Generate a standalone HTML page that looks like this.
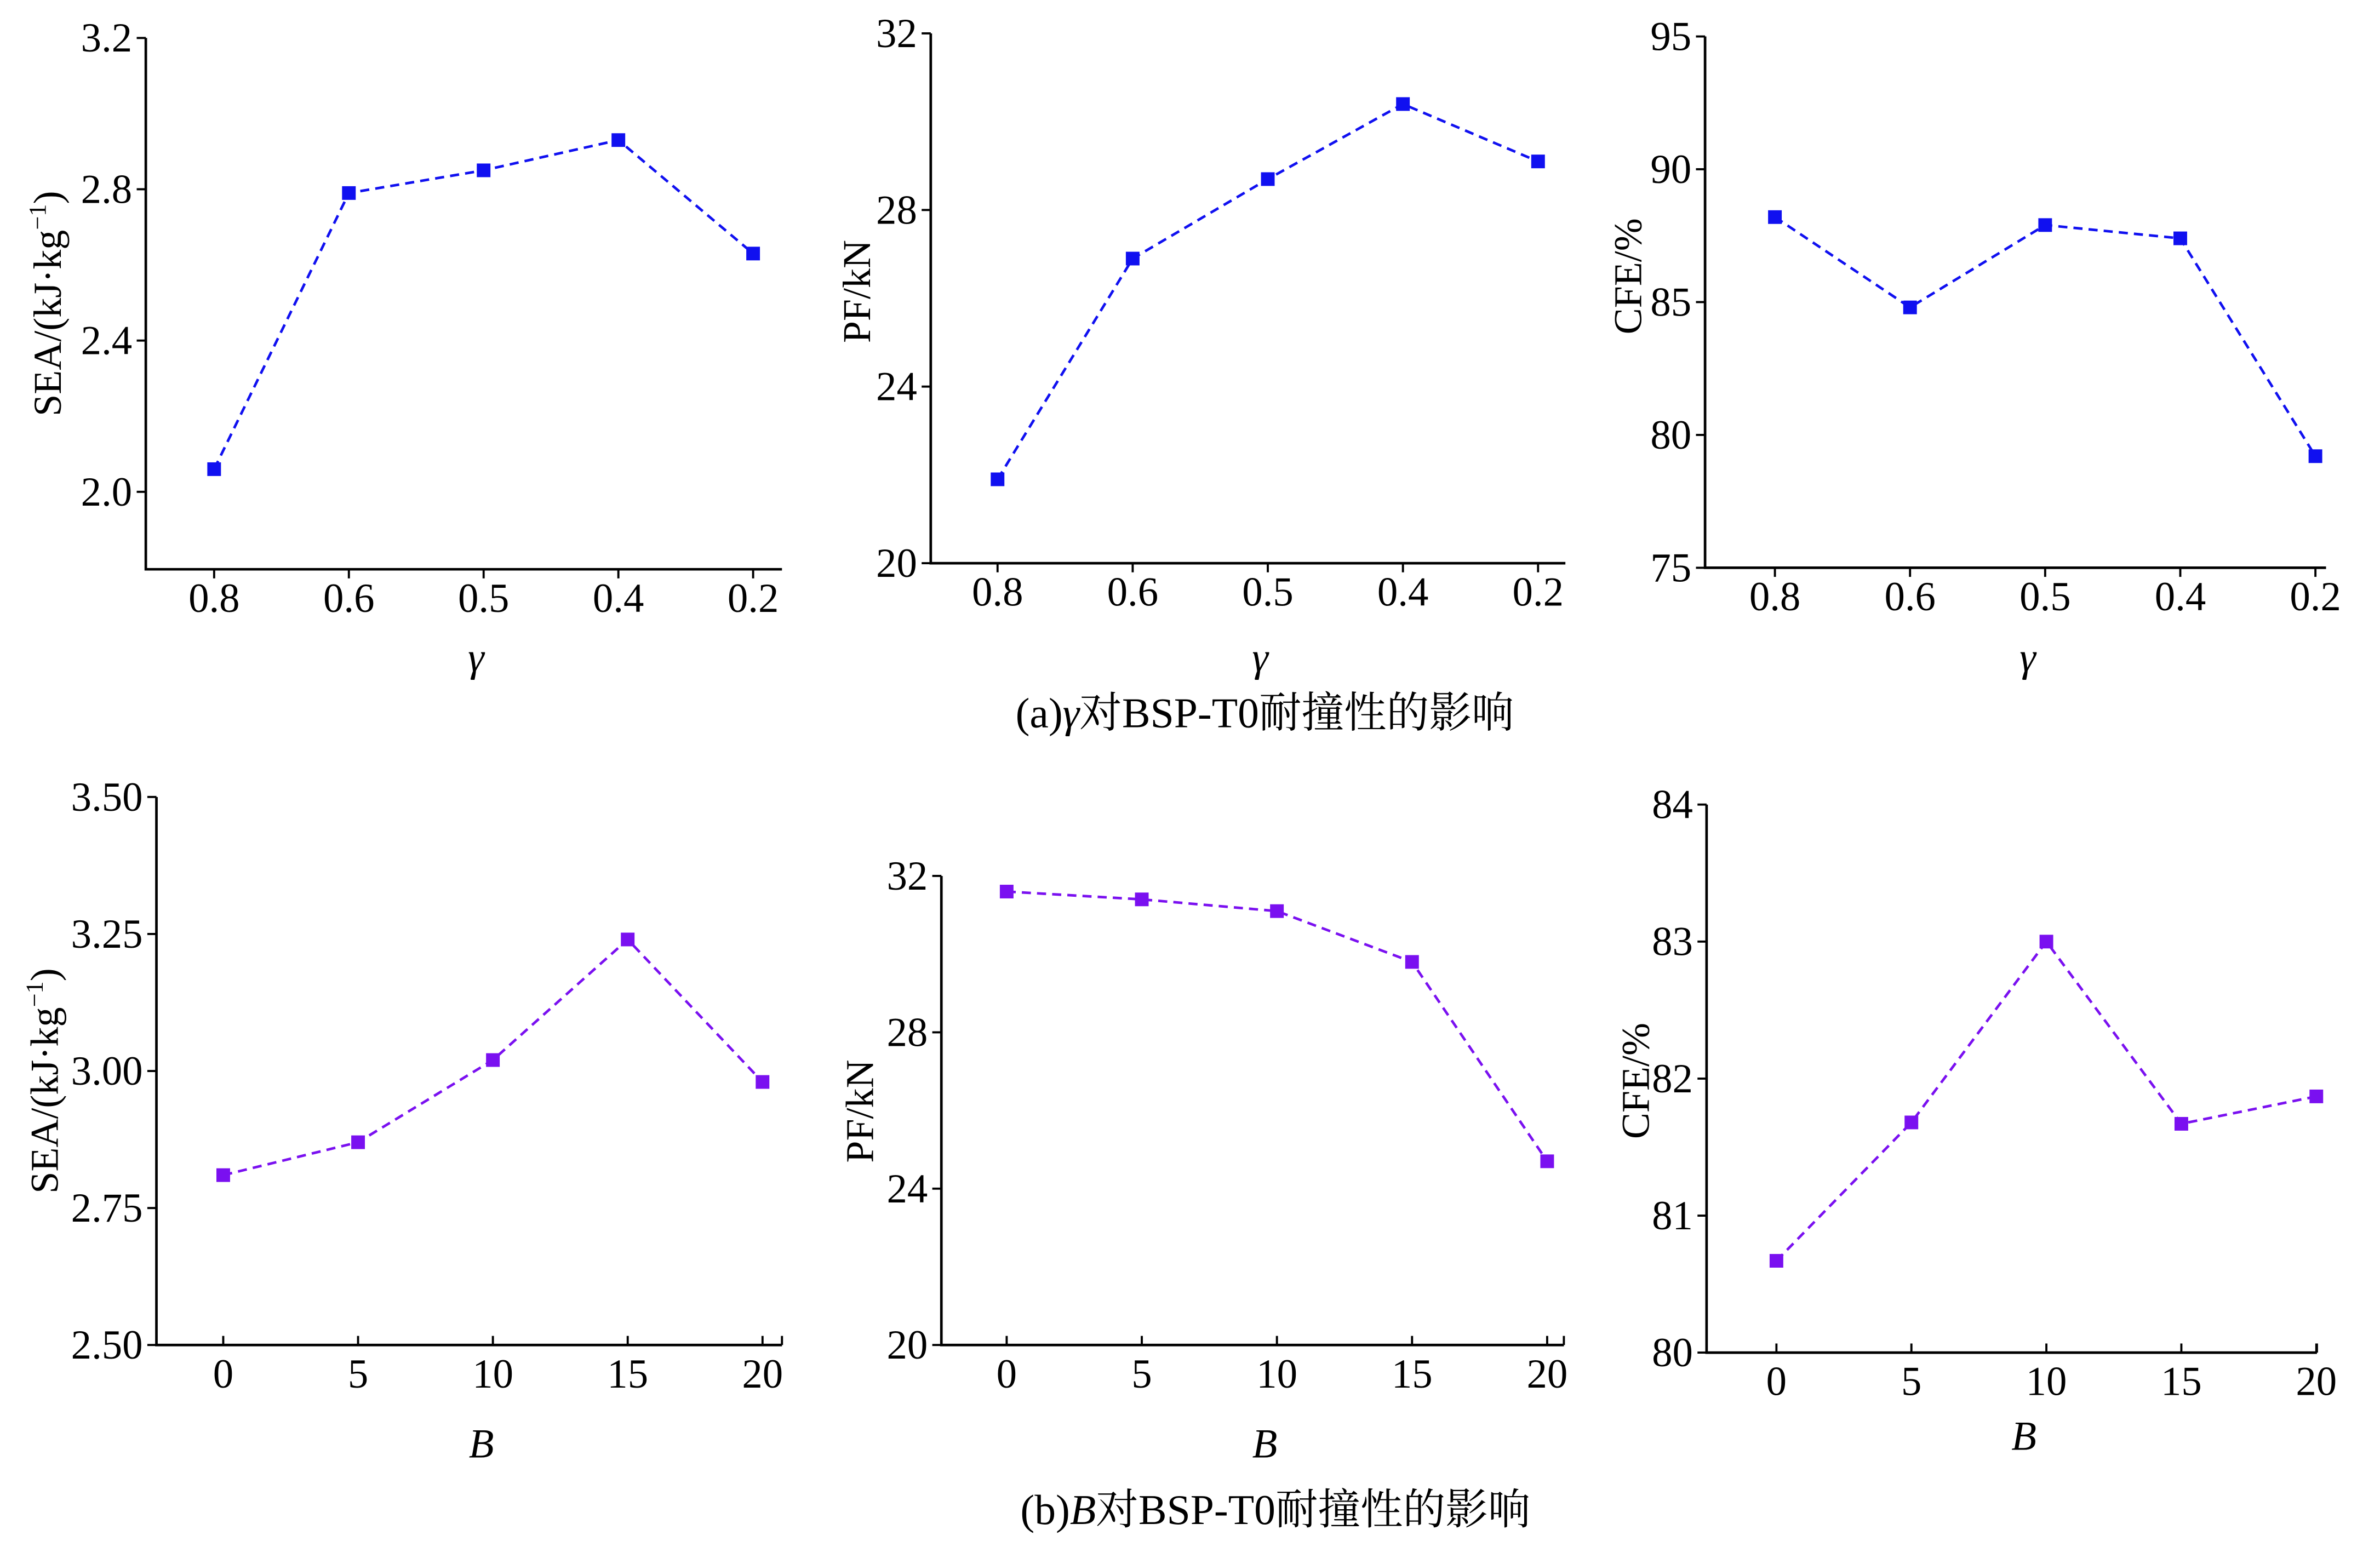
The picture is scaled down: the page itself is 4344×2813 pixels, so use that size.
<!DOCTYPE html>
<html><head><meta charset="utf-8"><style>
html,body{margin:0;padding:0;background:#fff;}
svg{display:block;}
text{font-family:"Liberation Serif","Noto Serif CJK SC","Noto Sans CJK SC",serif;fill:#000;}
</style></head><body>
<svg id="fig" width="4344" height="2813" viewBox="0 0 1567.5 1015.1" xmlns="http://www.w3.org/2000/svg">
<text x="833" y="479" font-size="28" text-anchor="middle">(a)<tspan font-style="italic">γ</tspan>对BSP-T0耐撞性的影响</text>
<text x="840" y="1004" font-size="28" text-anchor="middle">(b)<tspan font-style="italic">B</tspan>对BSP-T0耐撞性的影响</text>
</svg>
<script>
const catsGamma = ["0.8","0.6","0.5","0.4","0.2"];
const catsB = ["0","5","10","15","20"];
const seaGamma = [2.06, 2.79, 2.85, 2.93, 2.63];
const pfGamma = [21.9, 26.9, 28.7, 30.4, 29.1];
const cfeGamma = [88.2, 84.8, 87.9, 87.4, 79.2];
const seaB = [2.81, 2.87, 3.02, 3.24, 2.98];
const pfB = [31.6, 31.4, 31.1, 29.8, 24.7];
const cfeB = [80.67, 81.68, 83.0, 81.67, 81.87];
const ticksSeaGamma = ["2.0","2.4","2.8","3.2"];
const ticksPfGamma = ["20","24","28","32"];
const ticksCfeGamma = ["75","80","85","90","95"];
const ticksSeaB = ["2.50","2.75","3.00","3.25","3.50"];
const ticksPfB = ["20","24","28","32"];
const ticksCfeB = ["80","81","82","83","84"];

const NS = "http://www.w3.org/2000/svg";
const svg = document.getElementById('fig');
function mk(tag, attrs, parent){const e=document.createElementNS(NS,tag);for(const k in attrs)e.setAttribute(k,attrs[k]);(parent||svg).appendChild(e);return e;}

function panel(cfg){
  const g = mk('g',{});
  
  
  const yScale = v => cfg.yPix0 + (v - cfg.v0) * (cfg.yPix1 - cfg.yPix0) / (cfg.v1 - cfg.v0);
  const xScale = i => cfg.x0 + i * cfg.dx;
  const ax = mk('path',{d:`M${cfg.ax} ${cfg.yTop} V${cfg.axY} H${cfg.axR}`,fill:'none',stroke:'#000','stroke-width':1.7},g);
  
  
  cfg.yticks.forEach(t=>{
    const y=yScale(parseFloat(t));
    mk('line',{x1:cfg.ax-6,x2:cfg.ax,y1:y,y2:y,stroke:'#000','stroke-width':1.4},g);
    const tx=mk('text',{x:cfg.ax-9,y:y+9,'font-size':27,'text-anchor':'end'},g);
    tx.textContent=t;
    
    
  });
  cfg.cats.forEach((c,i)=>{
    const x=xScale(i);
    const d = cfg.up ? -6 : 6;
    mk('line',{x1:x,x2:x,y1:cfg.axY,y2:cfg.axY+d,stroke:'#000','stroke-width':1.4},g);
    const tx=mk('text',{x:x,y:cfg.axY+28,'font-size':27,'text-anchor':'middle'},g);
    tx.textContent=c;
    
    
  });
  if(cfg.up) mk('line',{x1:cfg.axR,x2:cfg.axR,y1:cfg.axY,y2:cfg.axY-6,stroke:'#000','stroke-width':1.4},g);
  const xt=mk('text',{x:(cfg.ax+cfg.axR)/2+8,y:cfg.xTitleY,'font-size':27,'font-style':'italic','text-anchor':'middle'},g);
  xt.textContent=cfg.xTitle;
  
  
  const yt=mk('text',{x:0,y:0,'font-size':26,'text-anchor':'middle',transform:`translate(${cfg.ytX},${cfg.ytY}) rotate(-90)`},g);
  if(cfg.sea){ yt.innerHTML='SEA/(kJ·kg<tspan font-size="16" dy="-10">−1</tspan><tspan dy="10">)</tspan>'; }
  else yt.textContent=cfg.yTitle;
  
  
  const pts=cfg.vals.map((v,i)=>`${xScale(i)},${yScale(v)}`).join(' ');
  const pl=mk('polyline',{points:pts,fill:'none',stroke:cfg.color,'stroke-width':1.7,'stroke-dasharray':'6 4'},g);
  
  
  cfg.vals.forEach((v,i)=>{
    const r=mk('rect',{x:xScale(i)-4.5,y:yScale(v)-4.5,width:9,height:9,fill:cfg.color},g);
    
    
  });
}
const blue='#1010f0', violet='#7a10f0';
panel({name:'panel-sea-gamma',cats:catsGamma,vals:seaGamma,yticks:ticksSeaGamma,v0:2.0,v1:3.2,yPix0:324,yPix1:25,ax:96,yTop:25,axY:375,axR:515,x0:141,dx:88.75,color:blue,xTitle:'γ',xTitleY:442,sea:true,ytX:40,ytY:200});
panel({name:'panel-pf-gamma',cats:catsGamma,vals:pfGamma,yticks:ticksPfGamma,v0:20,v1:32,yPix0:371,yPix1:22,ax:613,yTop:22,axY:371,axR:1031,x0:657,dx:89,color:blue,xTitle:'γ',xTitleY:442,yTitle:'PF/kN',ytX:573,ytY:192});
panel({name:'panel-cfe-gamma',cats:catsGamma,vals:cfeGamma,yticks:ticksCfeGamma,v0:75,v1:95,yPix0:374,yPix1:24,ax:1123,yTop:24,axY:374,axR:1532,x0:1169,dx:89,color:blue,xTitle:'γ',xTitleY:442,yTitle:'CFE/%',ytX:1081,ytY:182});
panel({name:'panel-sea-b',cats:catsB,vals:seaB,yticks:ticksSeaB,v0:2.5,v1:3.5,yPix0:886,yPix1:525,ax:103,yTop:525,axY:886,axR:515,x0:147,dx:88.8,color:violet,xTitle:'B',xTitleY:960,sea:true,ytX:38,ytY:712,up:true});
panel({name:'panel-pf-b',cats:catsB,vals:pfB,yticks:ticksPfB,v0:20,v1:32,yPix0:886,yPix1:577,ax:620,yTop:577,axY:886,axR:1030,x0:663,dx:89,color:violet,xTitle:'B',xTitleY:960,yTitle:'PF/kN',ytX:575,ytY:732,up:true});
panel({name:'panel-cfe-b',cats:catsB,vals:cfeB,yticks:ticksCfeB,v0:80,v1:84,yPix0:891,yPix1:530,ax:1124,yTop:530,axY:891,axR:1526,x0:1170,dx:88.9,color:violet,xTitle:'B',xTitleY:955,yTitle:'CFE/%',ytX:1086,ytY:712,up:true});
</script>
</body></html>
